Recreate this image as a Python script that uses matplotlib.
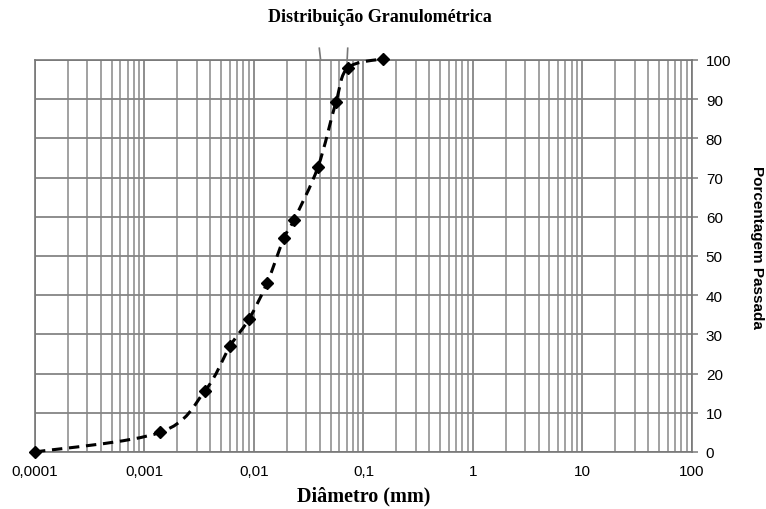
import numpy as np
import matplotlib.pyplot as plt
from matplotlib.path import Path
from matplotlib.patches import PathPatch
from matplotlib.ticker import FixedLocator, LogLocator, NullFormatter

# Grain size curve (diameter in mm, percent passing)
diametro = [0.0001, 0.00139, 0.00357, 0.00604, 0.0090, 0.01315,
            0.0188, 0.0232, 0.0384, 0.0561, 0.0721, 0.151]
passante = [0.0, 5.0, 15.6, 27.0, 33.9, 43.1,
            54.6, 59.2, 72.7, 89.3, 98.0, 100.3]

x_ticks = [0.0001, 0.001, 0.01, 0.1, 1, 10, 100]
x_labels = ['0,0001', '0,001', '0,01', '0,1', '1', '10', '100']
y_ticks = [0, 10, 20, 30, 40, 50, 60, 70, 80, 90, 100]

# short stray strokes above the frame
marcas_x = [(0.0395, 0.0405), (0.0718, 0.0710)]
marcas_y = [(103.0, 100.3), (103.0, 100.3)]


def smooth_path(xs, ys, tension=1/6):
    # Catmull-Rom style bezier through the points, built in log10(x) space
    lx = np.log10(xs)
    y = np.asarray(ys, dtype=float)
    n = len(lx)
    verts = [(xs[0], y[0])]
    codes = [Path.MOVETO]
    for i in range(n - 1):
        i0 = max(i - 1, 0)
        i3 = min(i + 2, n - 1)
        c1 = (lx[i] + (lx[i + 1] - lx[i0]) * tension, y[i] + (y[i + 1] - y[i0]) * tension)
        c2 = (lx[i + 1] - (lx[i3] - lx[i]) * tension, y[i + 1] - (y[i3] - y[i]) * tension)
        verts += [(10 ** c1[0], c1[1]), (10 ** c2[0], c2[1]), (xs[i + 1], y[i + 1])]
        codes += [Path.CURVE4] * 3
    return Path(verts, codes)


fig = plt.figure(figsize=(7.66, 5.10), dpi=100)
ax = fig.add_axes([0.0457, 0.1118, 0.8576, 0.7686])

ax.set_xscale('log')
ax.set_xlim(0.0001, 100)
ax.set_ylim(0, 100)

# grid
ax.xaxis.set_major_locator(FixedLocator(x_ticks))
ax.xaxis.set_minor_locator(LogLocator(base=10, subs=np.arange(2, 10), numticks=20))
ax.xaxis.set_minor_formatter(NullFormatter())
ax.set_xticklabels(x_labels)
ax.set_yticks(y_ticks)
ax.grid(True, which='major', axis='both', color='#858585', linewidth=1.3)
ax.grid(True, which='minor', axis='x', color='#9a9a9a', linewidth=1.3)
ax.set_axisbelow(True)

for s in ax.spines.values():
    s.set_color('#777777')
    s.set_linewidth(1.2)

ax.yaxis.tick_right()
ax.yaxis.set_label_position('right')
ax.tick_params(axis='y', which='major', length=4, color='#858585', width=1.2,
               labelsize=11, pad=6)
ax.tick_params(axis='x', which='both', length=0, labelsize=11, pad=9)
for lab in ax.get_xticklabels() + ax.get_yticklabels():
    lab.set_family('Liberation Sans')

# curve
curva = PathPatch(smooth_path(diametro, passante), facecolor='none', edgecolor='black',
                  linewidth=2.2, linestyle=(0, (3.4, 2.2)), clip_on=False, zorder=3)
ax.add_patch(curva)
ax.plot(diametro, passante, linestyle='none', marker='D', markersize=6,
        color='black', clip_on=False, zorder=4)

for mx, my in zip(marcas_x, marcas_y):
    ax.plot(mx, my, color='#777777', linewidth=1.2, clip_on=False, zorder=2)

ax.set_xlabel('Diâmetro (mm)', family='Liberation Serif', fontweight='bold',
              fontsize=14.5, labelpad=5)
ax.set_ylabel('Porcentagem Passada', family='Liberation Sans', fontweight='bold',
              fontsize=11, rotation=-90, va='center', ha='center')
ax.yaxis.set_label_coords(1.099, 0.525)
fig.text(0.496, 0.965, 'Distribuição Granulométrica', family='Liberation Serif',
         fontweight='bold', fontsize=13, ha='center', va='center')

fig.savefig('out.png', dpi=100)
